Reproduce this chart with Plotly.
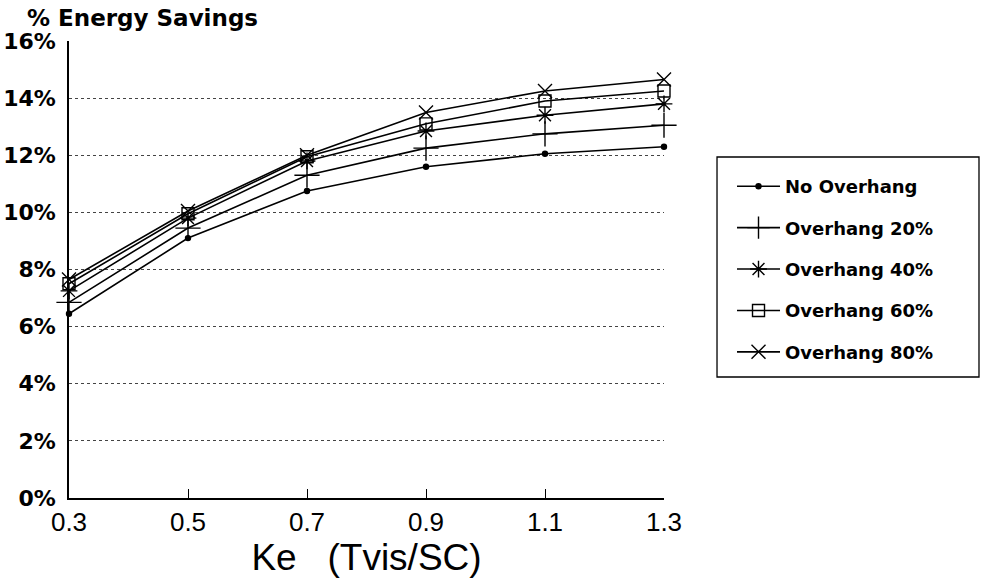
import plotly.graph_objects as go

# Effective aperture Ke (visible transmittance / shading coefficient)
ke = [0.3, 0.5, 0.7, 0.9, 1.1, 1.3]

# Percent energy savings for each overhang depth
no_overhang = [6.45, 9.1, 10.75, 11.6, 12.05, 12.3]
overhang_20 = [6.85, 9.45, 11.3, 12.25, 12.75, 13.05]
overhang_40 = [7.25, 9.8, 11.8, 12.85, 13.4, 13.8]
overhang_60 = [7.5, 9.95, 11.95, 13.1, 13.9, 14.25]
overhang_80 = [7.65, 10.05, 12.0, 13.5, 14.25, 14.65]

series_names = ["No Overhang", "Overhang 20%", "Overhang 40%",
                "Overhang 60%", "Overhang 80%"]
series_values = [no_overhang, overhang_20, overhang_40, overhang_60, overhang_80]
series_symbols = ["circle", "cross-thin-open", "asterisk-open",
                  "square-open", "x-thin-open"]
series_sizes = [5, 18, 14, 12, 14]

y_ticks = [0, 2, 4, 6, 8, 10, 12, 14, 16]
y_tick_labels = [f"{v}%" for v in y_ticks]
x_ticks = ke
x_tick_labels = ["0.3", "0.5", "0.7", "0.9", "1.1", "1.3"]

fig = go.Figure()
for i, (name, vals, sym, sz) in enumerate(zip(series_names, series_values,
                                               series_symbols, series_sizes)):
    fig.add_trace(go.Scatter(
        x=ke, y=vals, name=name, mode="lines+markers",
        legendgroup=f"g{i}",
        line=dict(color="black", width=1.6),
        marker=dict(symbol=sym, size=sz, color="black",
                    line=dict(color="black", width=1.4)),
        cliponaxis=False,
    ))

sans = "Liberation Sans, Arial, sans-serif"
wide_bold = "DejaVu Sans, Verdana, sans-serif"

fig.update_layout(
    width=987, height=584,
    margin=dict(l=69, r=323, t=41, b=86, autoexpand=False),
    paper_bgcolor="white", plot_bgcolor="white",
    font=dict(family=sans, color="black"),
    showlegend=True,
    legend=dict(
        x=1.1143, y=0.722, xanchor="left", yanchor="top",
        borderwidth=0, bgcolor="rgba(0,0,0,0)",
        font=dict(family=wide_bold, size=18, color="black", weight="bold"),
        traceorder="grouped", tracegroupgap=15,
        itemwidth=43,
    ),
    # legend frame
    shapes=[dict(
        type="rect", xref="paper", yref="paper",
        x0=1.0891, x1=1.5294, y0=0.2648, y1=0.7462,
        line=dict(color="black", width=1.3), fillcolor="rgba(0,0,0,0)",
    )],
    xaxis=dict(
        range=[0.3, 1.3], tickvals=x_ticks, ticktext=x_tick_labels,
        showgrid=False, zeroline=False, automargin=False,
        showline=True, linecolor="black", linewidth=1.5,
        ticks="inside", ticklen=9, tickwidth=1.3, tickcolor="black",
        tickfont=dict(family=sans, size=26, color="black"),
        title=dict(text="Ke\u00a0\u00a0\u00a0(Tvis/SC)",
                   font=dict(family=sans, size=37, color="black"),
                   standoff=4),
    ),
    yaxis=dict(
        range=[0, 16], tickvals=y_ticks, ticktext=y_tick_labels,
        showgrid=True, gridcolor="#444", gridwidth=1, griddash="dot",
        zeroline=False, automargin=False,
        showline=True, linecolor="black", linewidth=1.5,
        ticks="", ticklabelstandoff=7,
        tickfont=dict(family=wide_bold, size=22, color="black", weight="bold"),
    ),
    annotations=[dict(
        text="% Energy Savings", xref="paper", yref="paper",
        x=-0.074, y=1.05, xanchor="left", yanchor="middle",
        showarrow=False,
        font=dict(family=wide_bold, size=23, color="black", weight="bold"),
    )],
)

fig.write_html("out.html")
